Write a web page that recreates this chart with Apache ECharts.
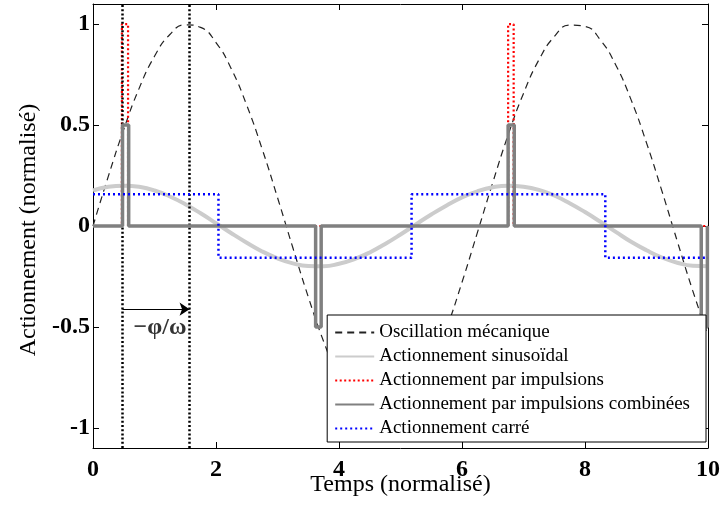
<!DOCTYPE html>
<html>
<head>
<meta charset="utf-8">
<script src="https://cdn.jsdelivr.net/npm/echarts@6/dist/echarts.min.js"></script>
<style>html,body{margin:0;padding:0;background:#fff}#c{width:721px;height:508px}</style>
</head>
<body>
<div id="c"></div>
<script>
// ---- data ----
var xs = [0,0.25,0.5,0.75,1,1.25,1.5,1.75,2,2.25,2.5,2.75,3,3.25,3.5,3.75,4,4.25,4.5,4.75,5,5.25,5.5,5.75,6,6.25,6.5,6.75,7,7.25,7.5,7.75,8,8.25,8.5,8.75,9,9.25,9.5,9.75,10];
var oscillation = [0,0.247,0.479,0.682,0.841,0.949,0.997,0.984,0.909,0.778,0.598,0.382,0.141,-0.108,-0.351,-0.572,-0.757,-0.895,-0.978,-0.999,-0.959,-0.859,-0.706,-0.508,-0.279,-0.033,0.215,0.451,0.657,0.823,0.938,0.995,0.989,0.922,0.798,0.625,0.412,0.174,-0.075,-0.319,-0.544];
var sinusoidal = [0.176,0.194,0.2,0.194,0.176,0.146,0.108,0.063,0.014,-0.036,-0.083,-0.126,-0.160,-0.185,-0.198,-0.199,-0.187,-0.164,-0.131,-0.089,-0.042,0.008,0.057,0.102,0.142,0.172,0.192,0.200,0.195,0.179,0.151,0.113,0.069,0.021,-0.029,-0.078,-0.120,-0.156,-0.182,-0.197,-0.199];
var pulseX = [0,0.47,0.47,0.57,0.57,6.75,6.75,6.84,6.84,10];
var pulseY = [0,0,1,1,0,0,1,1,0,0];
var combX = [0,0.48,0.48,0.58,0.58,3.62,3.62,3.71,3.71,6.75,6.75,6.85,6.85,9.89,9.89,9.99,9.99,10];
var combY = [0,0,0.5,0.5,0,0,-0.5,-0.5,0,0,0.5,0.5,0,0,-0.5,-0.5,0,0];
var squareX = [0,2.04,2.04,5.18,5.18,8.33,8.33,10];
var squareY = [0.157,0.157,-0.157,-0.157,0.157,0.157,-0.157,-0.157];
var phaseLines = [0.48, 1.57];
var arrowY = -0.412;
var annotation = {x: 1.09, y: -0.505, text: '\u2212\u03c6/\u03c9'};
var yTicks = [-1,-0.5,0,0.5,1];
var names = ['Oscillation mécanique','Actionnement sinusoïdal','Actionnement par impulsions','Actionnement par impulsions combinées','Actionnement carré'];

function zip(a,b){return a.map(function(v,i){return [v,b[i]];});}
var FONT = 'Liberation Serif';

var chart = echarts.init(document.getElementById('c'), null, {renderer:'canvas'});
var axisCommon = {
  axisLine:{show:true,onZero:false,lineStyle:{color:'#000',width:1}},
  splitLine:{show:false}
};
chart.setOption({
  animation:false,
  backgroundColor:'#fff',
  grid:{left:93,right:13,top:4,bottom:60,containLabel:false,outerBoundsMode:'none'},
  xAxis:[
    Object.assign({type:'value',min:0,max:10,interval:2,position:'bottom',
      name:'Temps (normalisé)',nameLocation:'middle',nameGap:25,nameMoveOverlap:false,
      nameTextStyle:{fontFamily:FONT,fontSize:24,color:'#000'},
      axisTick:{inside:true,length:6,lineStyle:{color:'#000'}},
      axisLabel:{fontFamily:FONT,fontSize:24,fontWeight:'bold',color:'#000',margin:10}},axisCommon),
    Object.assign({type:'value',min:0,max:10,interval:2,position:'top',
      axisTick:{inside:true,length:6,lineStyle:{color:'#000'}},
      axisLabel:{show:false}},axisCommon)
  ],
  yAxis:[
    Object.assign({type:'value',min:-1.1,max:1.1,position:'left',
      name:'Actionnement (normalisé)',nameLocation:'middle',nameGap:50,
      nameTextStyle:{fontFamily:FONT,fontSize:24,color:'#000',padding:[0,8,0,0]},
      axisTick:{inside:true,length:6,lineStyle:{color:'#000'},customValues:yTicks},
      axisLabel:{fontFamily:FONT,fontSize:24,fontWeight:'bold',color:'#000',margin:3,customValues:yTicks}},axisCommon),
    Object.assign({type:'value',min:-1.1,max:1.1,position:'right',
      axisTick:{inside:true,length:6,lineStyle:{color:'#000'},customValues:yTicks},
      axisLabel:{show:false,customValues:yTicks}},axisCommon)
  ],
  legend:{
    data:names,
    orient:'vertical',
    right:15, top:315,
    padding:[8,16,4,7],
    itemGap:5,
    itemWidth:39, itemHeight:14,
    itemStyle:{opacity:0},
    backgroundColor:'#fff', borderColor:'#000', borderWidth:1, borderRadius:0,
    textStyle:{fontFamily:FONT,fontSize:19,color:'#000',lineHeight:19},
    z:20
  },
  series:[
    {name:names[0],type:'line',data:zip(xs,oscillation),smooth:true,symbol:'none',
      lineStyle:{color:'#222',width:1.2,type:[7,5]},z:2},
    {name:names[1],type:'line',data:zip(xs,sinusoidal),smooth:true,symbol:'none',
      lineStyle:{color:'#cccccc',width:4},z:3},
    {name:names[2],type:'line',data:zip(pulseX,pulseY),symbol:'none',
      lineStyle:{color:'#ff0000',width:2.2,type:[2,2.5]},z:4},
    {name:names[3],type:'line',data:zip(combX,combY),symbol:'none',
      lineStyle:{color:'#808080',width:3.5},z:5},
    {name:names[4],type:'line',data:zip(squareX,squareY),symbol:'none',
      lineStyle:{color:'#0000ff',width:2.5,type:[2,3]},z:6},
    {type:'line',data:[],symbol:'none',z:7,
      markLine:{silent:true,symbol:'none',label:{show:false},
        lineStyle:{color:'#000',width:2.5,type:[2,2.2]},
        data:phaseLines.map(function(v){return {xAxis:v};})}},
    {type:'line',data:[],symbol:'none',z:8,
      markLine:{silent:true,symbol:['none','arrow'],symbolSize:10,label:{show:false},
        lineStyle:{color:'#000',width:1,type:'solid'},
        data:[[{coord:[phaseLines[0],arrowY]},{coord:[phaseLines[1],arrowY]}]]}},
    {type:'scatter',data:[[annotation.x,annotation.y]],symbolSize:0,z:9,silent:true,
      label:{show:true,position:'inside',formatter:annotation.text,fontFamily:FONT,fontSize:24,fontWeight:'bold',color:'#000'}}
  ]
});
</script>
</body>
</html>
